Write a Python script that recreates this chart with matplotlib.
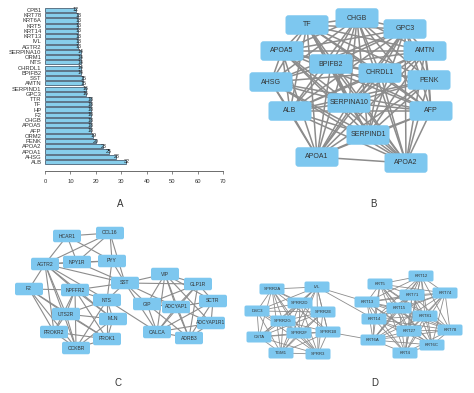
import matplotlib
matplotlib.use("Agg")
import matplotlib.pyplot as plt
from matplotlib.patches import FancyBboxPatch

plt.rcParams['font.family'] = ['Liberation Sans', 'DejaVu Sans']

# ---------------- Panel A data (bottom -> top) ----------------
genes_a = ["ALB", "AHSG", "APOA1", "APOA2", "PENK", "ORM2", "AFP", "APOA5", "CHGB",
           "F2", "HP", "TF", "TTR", "GPC3", "SERPIND1", "AMTN", "SST", "BPIFB2",
           "CHRDL1", "NTS", "ORM1", "SERPINA10", "AGTR2", "IVL", "KRT13", "KRT14",
           "KRT5", "KRT6A", "KRT78", "CPB1"]
degree_a = [32, 28, 25, 23, 20, 19, 18, 18, 18, 18, 18, 18, 18, 16, 16, 15, 15, 14,
            14, 14, 14, 14, 13, 13, 13, 13, 13, 13, 13, 12]
xticks_a = [0, 10, 20, 30, 40, 50, 60, 70]

# ---------------- Panel B network ----------------
nodes_b = ["TF", "CHGB", "GPC3", "APOA5", "AMTN", "BPIFB2", "CHRDL1", "AHSG", "PENK",
           "ALB", "SERPINA10", "AFP", "SERPIND1", "APOA1", "APOA2"]
bx = [307, 357, 405, 282, 425, 331, 380, 271, 429, 290, 349, 431, 368, 317, 406]
by = [25, 18, 29, 51, 51, 64, 73, 82, 80, 111, 103, 111, 135, 157, 163]
edges_b = {
    "TF": "CHGB GPC3 APOA5 AMTN BPIFB2 CHRDL1 AHSG PENK ALB SERPINA10 AFP SERPIND1 APOA1 APOA2",
    "CHGB": "GPC3 APOA5 AMTN BPIFB2 CHRDL1 AHSG PENK ALB SERPINA10 AFP SERPIND1 APOA1 APOA2",
    "GPC3": "APOA5 AMTN BPIFB2 CHRDL1 AHSG PENK ALB SERPINA10 AFP SERPIND1 APOA1 APOA2",
    "APOA5": "AMTN BPIFB2 CHRDL1 AHSG ALB SERPINA10 AFP SERPIND1 APOA1 APOA2",
    "AMTN": "BPIFB2 CHRDL1 PENK ALB SERPINA10 AFP SERPIND1 APOA1 APOA2",
    "BPIFB2": "CHRDL1 AHSG PENK ALB SERPINA10 AFP SERPIND1 APOA1 APOA2",
    "CHRDL1": "AHSG PENK ALB SERPINA10 AFP SERPIND1 APOA1 APOA2",
    "AHSG": "ALB SERPINA10 AFP SERPIND1 APOA1 APOA2",
    "PENK": "ALB SERPINA10 AFP SERPIND1 APOA1 APOA2",
    "ALB": "SERPINA10 AFP SERPIND1 APOA1 APOA2",
    "SERPINA10": "AFP SERPIND1 APOA1 APOA2",
    "AFP": "SERPIND1 APOA1 APOA2",
    "SERPIND1": "APOA1 APOA2",
    "APOA1": "APOA2",
}

# ---------------- Panel C network ----------------
nodes_c = ["HCAR1", "CCL16", "AGTR2", "NPY1R", "PYY", "VIP", "GLP1R", "SST", "F2",
           "NPFFR2", "NTS", "GIP", "ADCYAP1", "SCTR", "UTS2R", "MLN", "ADCYAP1R1",
           "PROKR2", "CALCA", "PROK1", "ADRB3", "CCKBR"]
cx = [67, 110, 45, 77, 112, 165, 198, 125, 29, 75, 107, 147, 176, 213, 66, 113, 211,
      54, 157, 107, 189, 76]
cy = [236, 233, 264, 262, 261, 274, 284, 283, 289, 290, 300, 304, 307, 301, 314, 319,
      323, 332, 332, 339, 338, 348]
edges_c = {
    "HCAR1": "CCL16 AGTR2 NPY1R PYY",
    "CCL16": "NPY1R PYY SST AGTR2",
    "AGTR2": "NPY1R PYY SST F2 NPFFR2 UTS2R PROKR2 CCKBR NTS MLN",
    "NPY1R": "PYY SST",
    "PYY": "SST NTS",
    "SST": "VIP GLP1R GIP ADCYAP1 CALCA NTS NPFFR2",
    "VIP": "GLP1R GIP ADCYAP1 SCTR ADCYAP1R1 CALCA ADRB3",
    "GLP1R": "GIP ADCYAP1 SCTR CALCA ADRB3",
    "GIP": "ADCYAP1 CALCA ADRB3",
    "ADCYAP1": "SCTR ADCYAP1R1 CALCA ADRB3",
    "SCTR": "ADCYAP1R1 CALCA ADRB3",
    "ADCYAP1R1": "ADRB3 CALCA",
    "CALCA": "ADRB3 NTS",
    "NTS": "MLN NPFFR2 UTS2R PROK1 CCKBR",
    "F2": "NPFFR2 UTS2R PROKR2 CCKBR PROK1",
    "NPFFR2": "UTS2R MLN PROK1 PROKR2 CCKBR",
    "UTS2R": "MLN PROKR2 PROK1 CCKBR",
    "MLN": "PROK1 CCKBR",
    "PROKR2": "PROK1 CCKBR",
    "PROK1": "CCKBR",
}

# ---------------- Panel D network ----------------
nodes_d = ["SPRR2A", "IVL", "SPRR2D", "DSC3", "SPRR2E", "SPRR2G", "SPRR2F", "SPRR1B",
           "CSTA", "TGM1", "SPRR3", "KRT12", "KRT5", "KRT71", "KRT74", "KRT13", "KRT15",
           "KRT14", "KRT81", "KRT27", "KRT78", "KRT6A", "KRT6C", "KRT4"]
dx = [272, 317, 300, 257, 323, 283, 299, 328, 259, 281, 318, 421, 380, 412, 445, 367,
      399, 374, 425, 409, 450, 373, 432, 405]
dy = [289, 287, 303, 311, 312, 321, 333, 332, 337, 353, 354, 276, 284, 295, 293, 302,
      308, 319, 316, 331, 330, 340, 345, 353]
edges_d = {
    "SPRR2A": "IVL SPRR2D DSC3 SPRR2E SPRR2G SPRR2F SPRR1B CSTA TGM1 SPRR3",
    "IVL": "SPRR2D DSC3 SPRR2E SPRR2G SPRR2F SPRR1B CSTA TGM1 SPRR3 KRT13 KRT14",
    "SPRR2D": "DSC3 SPRR2E SPRR2G SPRR2F SPRR1B CSTA TGM1 SPRR3",
    "DSC3": "SPRR2E SPRR2G SPRR2F CSTA TGM1 SPRR3",
    "SPRR2E": "SPRR2G SPRR2F SPRR1B CSTA TGM1 SPRR3",
    "SPRR2G": "SPRR2F SPRR1B CSTA TGM1 SPRR3",
    "SPRR2F": "SPRR1B CSTA TGM1 SPRR3",
    "SPRR1B": "CSTA TGM1 SPRR3 KRT6A",
    "CSTA": "TGM1 SPRR3",
    "TGM1": "SPRR3",
    "KRT12": "KRT5 KRT71 KRT74 KRT13 KRT15 KRT14 KRT81 KRT27 KRT78 KRT6A KRT6C KRT4",
    "KRT5": "KRT71 KRT74 KRT13 KRT15 KRT14 KRT81 KRT27 KRT78 KRT6A KRT6C KRT4",
    "KRT71": "KRT74 KRT13 KRT15 KRT14 KRT81 KRT27 KRT78 KRT6A KRT6C KRT4",
    "KRT74": "KRT13 KRT15 KRT14 KRT81 KRT27 KRT78 KRT6A KRT6C KRT4",
    "KRT13": "KRT15 KRT14 KRT81 KRT27 KRT78 KRT6A KRT6C KRT4",
    "KRT15": "KRT14 KRT81 KRT27 KRT78 KRT6A KRT6C KRT4",
    "KRT14": "KRT81 KRT27 KRT78 KRT6A KRT6C KRT4",
    "KRT81": "KRT27 KRT78 KRT6A KRT6C KRT4",
    "KRT27": "KRT78 KRT6A KRT6C KRT4",
    "KRT78": "KRT6A KRT6C KRT4",
    "KRT6A": "KRT6C KRT4",
    "KRT6C": "KRT4",
}

panel_labels = ["A", "B", "C", "D"]

NODE_FC = "#7DC7EF"
EDGE_C = "#8C8C8C"
TEXT_C = "#333333"

fig = plt.figure(figsize=(4.74, 3.93), dpi=100)
fig.patch.set_facecolor("white")

# full-figure axes in pixel units for the networks and panel letters
net = fig.add_axes([0, 0, 1, 1])
net.set_xlim(0, 474)
net.set_ylim(393, 0)
net.axis("off")


def draw_network(ax, names, xs, ys, edges, w, h, fs, lw, rad):
    pos = {n: (x, y) for n, x, y in zip(names, xs, ys)}
    for a, nb in edges.items():
        for b in nb.split():
            ax.plot([pos[a][0], pos[b][0]], [pos[a][1], pos[b][1]],
                    color=EDGE_C, lw=lw, zorder=1, solid_capstyle="butt")
    for n in names:
        x, y = pos[n]
        ax.add_patch(FancyBboxPatch((x - w / 2, y - h / 2), w, h,
                                    boxstyle=f"round,pad=0,rounding_size={rad}",
                                    fc=NODE_FC, ec="none", zorder=2))
        ax.text(x, y, n, ha="center", va="center", fontsize=fs, color=TEXT_C, zorder=3)


draw_network(net, nodes_b, bx, by, edges_b, 43, 19.5, 5.0, 1.1, 3)
draw_network(net, nodes_c, cx, cy, edges_c, 28, 12.5, 3.6, 0.8, 2)
draw_network(net, nodes_d, dx, dy, edges_d, 25, 11, 3.1, 0.6, 1.8)

for lab, (lx, ly) in zip(panel_labels, [(120, 204), (373, 204), (118, 383), (375, 383)]):
    net.text(lx, ly, lab, ha="center", va="center", fontsize=7, color=TEXT_C)

# ---------------- Panel A bar chart ----------------
ax = fig.add_axes([45 / 474, 1 - 171 / 393, 178 / 474, 163 / 393])
ax.patch.set_alpha(0)
ypos = list(range(len(genes_a)))
ax.barh(ypos, degree_a, height=0.8, color="#87CEEB", edgecolor="#34495E", linewidth=0.5)
for y, v in zip(ypos, degree_a):
    ax.text(v, y, str(v), ha="center", va="center", fontsize=3.8, color="#222222")
ax.set_xlim(0, 70)
ax.set_ylim(-1.72, 29.38)
ax.set_yticks(ypos)
ax.set_yticklabels(genes_a, fontsize=4.2, color=TEXT_C)
ax.tick_params(axis="y", length=0, pad=2.5)
ax.set_xticks(xticks_a)
ax.set_xticklabels([str(t) for t in xticks_a], fontsize=4.2, color=TEXT_C)
ax.tick_params(axis="x", length=2.5, width=0.5, pad=3, color="#555555")
for s in ["left", "top", "right"]:
    ax.spines[s].set_visible(False)
ax.spines["bottom"].set_linewidth(0.6)
ax.spines["bottom"].set_color("#555555")

fig.savefig("out.png", dpi=100, facecolor="white")
